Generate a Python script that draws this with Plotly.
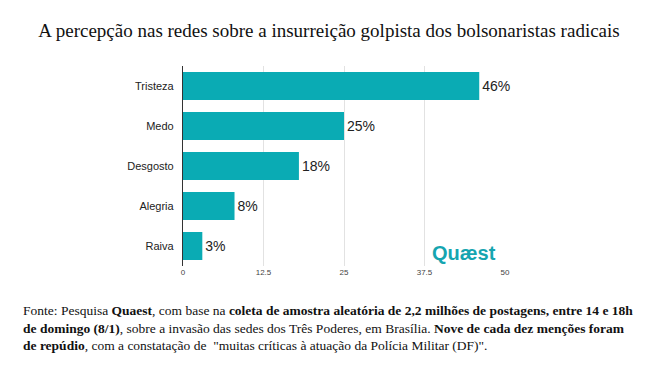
import plotly.graph_objects as go

categories = ["Tristeza", "Medo", "Desgosto", "Alegria", "Raiva"]
values = [46, 25, 18, 8, 3]
labels = ["46%", "25%", "18%", "8%", "3%"]
tick_vals = [0, 12.5, 25, 37.5, 50]
tick_text = ["0", "12.5", "25", "37.5", "50"]

bar_color = "#0aabb4"

W, H = 634, 349
L, R, T, B = 175, 137, 58, 91
pw, ph = W - L - R, H - T - B

fig = go.Figure(go.Bar(
    x=values, y=categories, orientation="h",
    marker=dict(color=bar_color, line=dict(width=0)),
    text=labels, textposition="outside",
    textfont=dict(family="Liberation Sans, Arial", size=14, color="#222"),
    cliponaxis=False,
))

fig.update_layout(
    width=W, height=H,
    paper_bgcolor="white", plot_bgcolor="white",
    margin=dict(l=L, r=R, t=T, b=B, autoexpand=False),
    bargap=0.3,
    showlegend=False,
    title=dict(
        text="A percepção nas redes sobre a insurreição golpista dos bolsonaristas radicais",
        x=(329 - 8) / W, xanchor="center", y=1 - 22 / H, yanchor="middle",
        font=dict(family="Liberation Serif, Times New Roman", size=19, color="#111"),
    ),
    xaxis=dict(
        range=[0, 50], tickvals=tick_vals, ticktext=tick_text,
        showgrid=True, gridcolor="#e2e2e2", gridwidth=1,
        zeroline=False, showline=False, ticks="",
        tickfont=dict(family="Liberation Sans, Arial", size=8, color="#444"),
    ),
    yaxis=dict(
        autorange="reversed",
        showline=True, linecolor="#333", linewidth=1,
        ticks="", ticklen=0,
        tickfont=dict(family="Liberation Sans, Arial", size=11, color="#222"),
        ticksuffix="  ",
    ),
    font=dict(family="Liberation Sans, Arial"),
)

fig.add_annotation(
    xref="paper", yref="paper", x=(490 - L) / pw, y=0.0, xanchor="right", yanchor="bottom",
    text="<b>Quæst</b>", showarrow=False,
    font=dict(family="Liberation Sans, Arial", size=20, color="#16a5b0"),
)

footer = ("Fonte: Pesquisa <b>Quaest</b>, com base na <b>coleta de amostra aleatória de 2,2 milhões de postagens, entre 14 e 18h</b><br>"
          "<b>de domingo (8/1)</b>, sobre a invasão das sedes dos Três Poderes, em Brasília. <b>Nove de cada dez menções foram</b><br>"
          "<b>de repúdio</b>, com a constatação de  \"muitas críticas à atuação da Polícia Militar (DF)\".")
fig.add_annotation(
    xref="paper", yref="paper", x=(13 - L) / pw, y=-(293 - (H - B)) / ph, xanchor="left", yanchor="top",
    text=footer, showarrow=False, align="left",
    font=dict(family="Liberation Serif, Times New Roman", size=13.5, color="#111"),
)

fig.write_html("out.html")
